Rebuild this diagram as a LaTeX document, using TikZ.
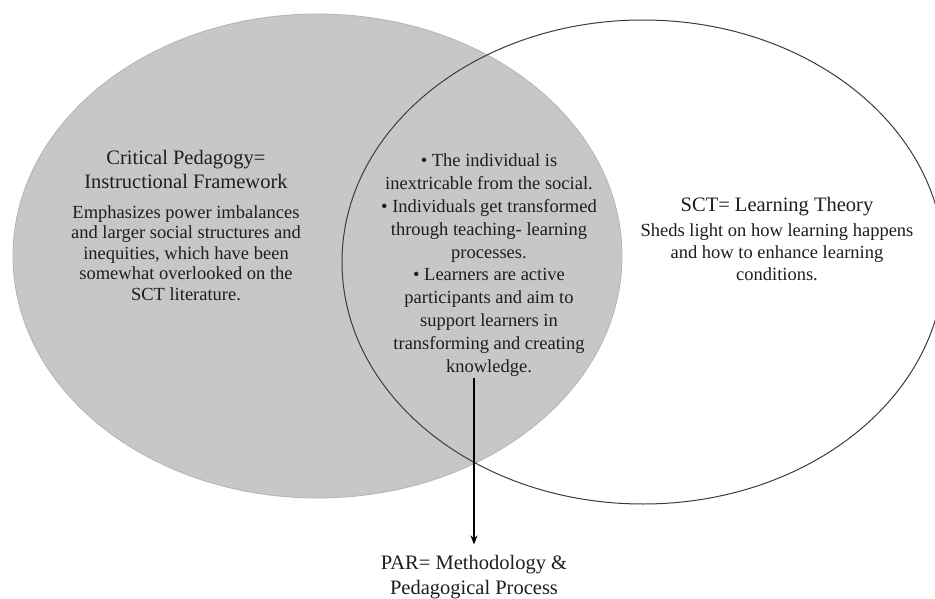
\documentclass[tikz,border=0pt]{standalone}
\usepackage{fontspec}
\setmainfont{Liberation Serif}
\usetikzlibrary{arrows.meta}
\definecolor{venngray}{RGB}{199,199,199}
\definecolor{vennedge}{RGB}{180,180,180}
\definecolor{ringline}{RGB}{60,60,60}
\definecolor{txt}{RGB}{30,30,30}
\tikzset{
  titletext/.style={align=center, inner sep=0pt, text=txt, font=\fontsize{20.5}{23.5}\selectfont},
  bodytext/.style={align=center, inner sep=0pt, text=txt, font=\fontsize{18.5}{20.5}\selectfont},
  midtext/.style={align=center, inner sep=0pt, text=txt, font=\fontsize{18.5}{22.8}\selectfont},
  rtext/.style={align=center, inner sep=0pt, text=txt, font=\fontsize{18.5}{22}\selectfont},
  flowarrow/.style={line width=1.2pt, draw=black, -{Stealth[length=9pt,width=7pt]}}
}
\begin{document}
\begin{tikzpicture}[x=1pt,y=-1pt]
\clip (0,0) rectangle (935,599);
\fill[white] (0,0) rectangle (935,599);
% left (gray) ellipse
\filldraw[fill=venngray, draw=vennedge, line width=0.8pt] (317.5,256) ellipse [x radius=304.5pt, y radius=242pt];
% right (outlined) ellipse
\draw[draw=ringline, line width=1pt] (643,262) ellipse [x radius=301pt, y radius=242pt];

% left texts
\node[titletext] (cptitle) at (186,169.5) {Critical Pedagogy=\\Instructional Framework};
\node[bodytext] (cpbody) at (186,253) {Emphasizes power imbalances\\and larger social structures and\\inequities, which have been\\somewhat overlooked on the\\SCT literature.};

% middle text
\node[midtext] (mid) at (489,265) {\textbullet\ The individual is\\inextricable from the social.\\\textbullet\ Individuals get transformed\\through teaching- learning\\processes.\\\textbullet\ Learners are active\\participants and aim to\\support learners in\\transforming and creating\\knowledge.};

% right texts
\node[titletext] (scttitle) at (777,206.5) {SCT= Learning Theory};
\node[rtext] (sctbody) at (777,252.5) {Sheds light on how learning happens\\and how to enhance learning\\conditions.};

% bottom text
\node[titletext, font=\fontsize{20.5}{25}\selectfont] (par) at (474,577.5) {PAR= Methodology \&\\Pedagogical Process};

\coordinate (astart) at (474,378);
\draw[flowarrow, shorten >=11pt] (astart) -- (astart |- par.north);
\end{tikzpicture}
\end{document}
